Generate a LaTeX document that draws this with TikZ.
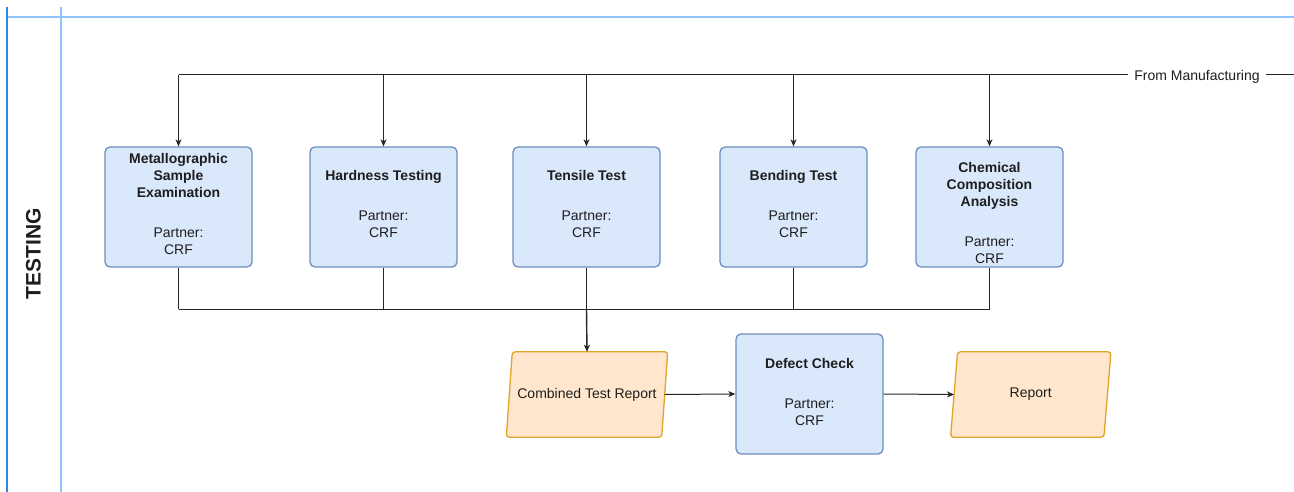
\documentclass[tikz,border=0pt]{standalone}
\usepackage{fontspec}
\setmainfont{Liberation Sans}
\usetikzlibrary{arrows.meta,backgrounds}
\definecolor{procfill}{HTML}{DAE8FC}
\definecolor{procdraw}{HTML}{6C8EBF}
\definecolor{iofill}{HTML}{FFE6CC}
\definecolor{iodraw}{HTML}{DFA52A}
\definecolor{laneouter}{HTML}{2F86E6}
\definecolor{laneinner}{HTML}{90C4FF}
\definecolor{ink}{HTML}{1E1E1E}
\begin{document}
\begin{tikzpicture}[x=1pt,y=-1pt,
  every node/.style={font=\fontsize{14}{17}\selectfont, text=ink},
  process/.style={draw=procdraw, fill=procfill, line width=1.3pt, rounded corners=5pt,
    minimum width=147pt, minimum height=120pt, inner sep=0pt},
  steptext/.style={align=center, inner sep=0pt},
  ioshape/.style={draw=iodraw, fill=iofill, line width=1.3pt, rounded corners=3pt},
  iotext/.style={minimum width=155pt, minimum height=85pt, inner sep=0pt, align=center},
  flow/.style={draw=black!85, line width=1pt},
  flowarrow/.style={flow, -{Stealth[length=7pt,width=6pt,inset=2pt]}}
]
\useasboundingbox (0,0) rectangle (1294,492);

% swimlane frame
\draw[laneinner, line width=1.2pt] (7,17) -- (1294,17);
\draw[laneouter, line width=1.2pt] (7,7) -- (7,492);
\draw[laneinner, line width=1.5pt] (61,7) -- (61,492);
\node[rotate=90, font=\fontsize{21}{25}\selectfont\bfseries] (lane) at (33.5,254) {TESTING};

% test steps
\node[process] (metal) at (178.5,207) {};
\node[process] (hard) at (383.5,207) {};
\node[process] (tensile) at (586.5,207) {};
\node[process] (bend) at (793.5,207) {};
\node[process] (chem) at (989.5,207) {};
\node[process] (defect) at (809.5,394) {};

\node[steptext] (metaltext) at ([yshift=3pt]metal.center)
  {\textbf{Metallographic}\\\textbf{Sample}\\\textbf{Examination}\\[23pt]Partner:\\CRF};
\node[steptext] (hardtext) at ([yshift=3pt]hard.center)
  {\textbf{Hardness Testing}\\[23pt]Partner:\\CRF};
\node[steptext] (tensiletext) at ([yshift=3pt]tensile.center)
  {\textbf{Tensile Test}\\[23pt]Partner:\\CRF};
\node[steptext] (bendtext) at ([yshift=3pt]bend.center)
  {\textbf{Bending Test}\\[23pt]Partner:\\CRF};
\node[steptext] (chemtext) at ([yshift=-6pt]chem.center)
  {\textbf{Chemical}\\\textbf{Composition}\\\textbf{Analysis}\\[23pt]Partner:\\CRF};
\node[steptext] (defecttext) at ([yshift=2pt]defect.center)
  {\textbf{Defect Check}\\[23pt]Partner:\\CRF};

% data (parallelogram) nodes
\node[iotext] (combined) at (587,394.5) {Combined Test Report};
\node[iotext, minimum width=153pt] (report) at (1030.75,394.5) {Report};
\begin{scope}[on background layer]
  \draw[ioshape] ([xshift=3pt]combined.north west) -- ([xshift=3pt]combined.north east)
    -- ([xshift=-3pt]combined.south east) -- ([xshift=-3pt]combined.south west) -- cycle;
  \draw[ioshape] ([xshift=3.5pt]report.north west) -- ([xshift=3.5pt]report.north east)
    -- ([xshift=-3.5pt]report.south east) -- ([xshift=-3.5pt]report.south west) -- cycle;
\end{scope}

% incoming feed from manufacturing
\coordinate (feed) at (1294,75);
\draw[flow] (feed) -- (metal.north |- feed);
\foreach \b in {metal,hard,tensile,bend,chem}
  \draw[flowarrow] (\b.north |- feed) -- (\b.north);
\node[fill=white, inner xsep=6pt, inner ysep=2pt, yshift=-1.5pt] (feedlabel) at (1197,75) {From Manufacturing};

% results collected into the combined report
\coordinate (bus) at (0,309);
\foreach \b in {metal,hard,tensile,bend,chem}
  \draw[flow] (\b.south) -- (\b.south |- bus);
\draw[flow] (metal.south |- bus) -- (chem.south |- bus);
\draw[flowarrow, line width=1.4pt] (tensile.south |- bus) -- (combined.north);

\draw[flowarrow] (combined.east) -- (defect.west);
\draw[flowarrow] (defect.east) -- (report.west);
\end{tikzpicture}
\end{document}
